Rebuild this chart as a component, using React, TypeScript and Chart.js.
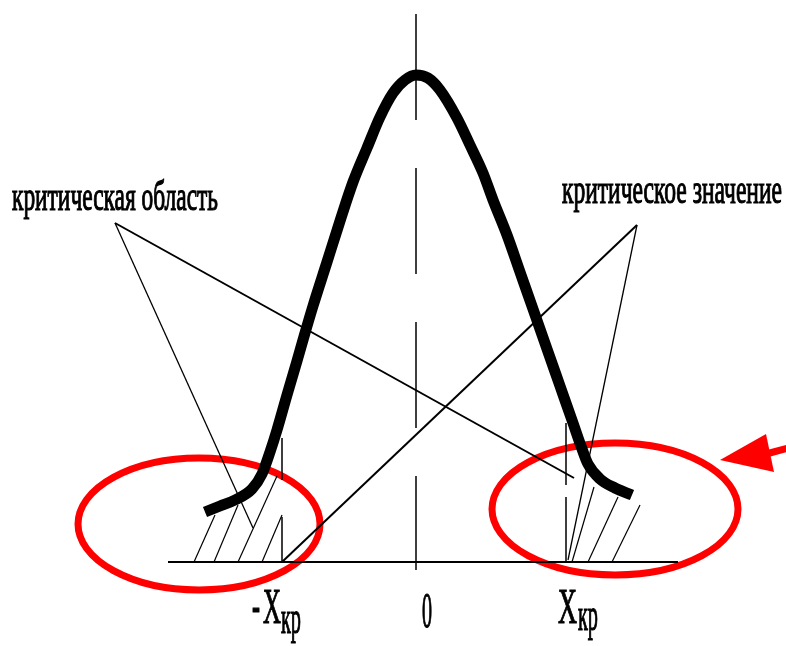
import React, { useEffect, useRef } from "react";
import { Chart, registerables } from "chart.js";

Chart.register(...registerables);

// Coordinate frame: x measured from the centre "0", y measured up from the axis.
const xRange = [-416, 370];
const yRange = [-84, 562];

// Density curve
const curveX = [-211, -196, -181, -164, -154, -146, -139, -129, -119, -111, -103, -89, -76, -63, -49, -36, -23, -11, 0,
  12, 24, 41, 54, 67, 77, 91, 104, 117, 131, 144, 157, 165, 172, 184, 199, 216];
const curveY = [50, 56, 62, 73, 88, 110, 132, 167, 201, 229, 256, 300, 341, 380, 414, 445, 469, 482, 487,
  484, 472, 444, 417, 389, 362, 327, 290, 253, 213, 176, 139, 116, 98, 83, 74, 67];

// Critical values
const xkrLeft = -134;
const xkrRight = 150;

// Base axis [x1, x2]
const axisLine = [-248, 262];
// Centre line [yTop, yBottom]
const centreLine = [548, -8];
// Dashed critical-value lines: [yTop, yBottom] pieces
const leftKrPieces = [[124, 82], [45, 0]];
const rightKrPieces = [[139, 77], [65, 0]];

// Hatching [x1, y1, x2, y2]
const hatchLeft = [
  [-222, 0, -201, 47],
  [-202, 0, -178, 57],
  [-178, 0, -139, 86],
  [-154, 0, -134, 47],
];
const hatchRight = [
  [156, 0, 178, 75],
  [172, 0, 202, 65],
  [196, 0, 224, 57],
];

// Leader lines [x1, y1, x2, y2, width]
const leaders = [
  [-301, 339, 158, 84, 2],
  [-301, 339, -163, 34, 1.3],
  [221, 337, -134, 0, 2],
  [221, 337, 152, 2, 1.3],
];

// Red ellipses [cx, cy, rx, ry]
const ellipses = [
  [-217, 38, 121, 66],
  [199, 53, 123, 66],
];
// Red arrow: tip, head corners, shaft
const arrowTip = [304, 102];
const arrowHead = [[350, 128], [358, 90]];
const arrowShaft = [[350, 108], [372, 114]];

// Texts
const labelTexts = ["критическая область", "критическое значение", "-", "X", "кр", "0", "X", "кр"];
const labelX = [-404, 146, -164, -153, -135, 6, 142, 162];
const labelY = [352, 359, -60, -61, -71, -65, -61, -68];
const labelSize = [42, 40, 50, 50, 46, 50, 50, 46];
const labelWidth = [206, 220, 8, 18, 20, 10, 19, 20];

const seg = (pts: number[][], width: number, dash: number[] = []) => ({
  data: pts.map(([x, y]) => ({ x, y })),
  borderColor: "#000",
  borderWidth: width,
  borderDash: dash,
  pointRadius: 0,
  showLine: true,
  fill: false,
  tension: 0,
});

const drawPlugin = {
  id: "decor",
  beforeDatasetsDraw(chart: any) {
    const { ctx, scales } = chart;
    const sx = scales.x, sy = scales.y;
    ctx.save();
    ctx.strokeStyle = "#ff0000";
    ctx.fillStyle = "#ff0000";
    ctx.lineWidth = 7;
    ellipses.forEach(([cx, cy, rx, ry]) => {
      const px = sx.getPixelForValue(cx);
      const py = sy.getPixelForValue(cy);
      const prx = Math.abs(sx.getPixelForValue(cx + rx) - px);
      const pry = Math.abs(sy.getPixelForValue(cy + ry) - py);
      ctx.beginPath();
      ctx.ellipse(px, py, prx, pry, 0, 0, Math.PI * 2);
      ctx.stroke();
    });
    ctx.beginPath();
    ctx.moveTo(sx.getPixelForValue(arrowShaft[0][0]), sy.getPixelForValue(arrowShaft[0][1]));
    ctx.lineTo(sx.getPixelForValue(arrowShaft[1][0]), sy.getPixelForValue(arrowShaft[1][1]));
    ctx.stroke();
    ctx.beginPath();
    ctx.moveTo(sx.getPixelForValue(arrowTip[0]), sy.getPixelForValue(arrowTip[1]));
    ctx.lineTo(sx.getPixelForValue(arrowHead[0][0]), sy.getPixelForValue(arrowHead[0][1]));
    ctx.lineTo(sx.getPixelForValue(arrowHead[1][0]), sy.getPixelForValue(arrowHead[1][1]));
    ctx.closePath();
    ctx.fill();
    ctx.restore();
  },
  afterDatasetsDraw(chart: any) {
    const { ctx, scales } = chart;
    const sx = scales.x, sy = scales.y;
    labelTexts.forEach((t, i) => {
      ctx.save();
      ctx.font = `${labelSize[i]}px "Liberation Serif", "Times New Roman", serif`;
      ctx.textBaseline = "alphabetic";
      ctx.textAlign = "left";
      ctx.fillStyle = "#000";
      ctx.strokeStyle = "#000";
      ctx.lineWidth = 1.2;
      const w = ctx.measureText(t).width || 1;
      ctx.translate(sx.getPixelForValue(labelX[i]), sy.getPixelForValue(labelY[i]));
      ctx.scale(labelWidth[i] / w, 1);
      ctx.fillText(t, 0, 0);
      ctx.strokeText(t, 0, 0);
      ctx.restore();
    });
  },
};

export default function App() {
  const ref = useRef<HTMLCanvasElement>(null);
  useEffect(() => {
    if (!ref.current) return;
    const datasets: any[] = [];
    datasets.push(seg([[axisLine[0], 0], [axisLine[1], 0]], 2.2));
    datasets.push(seg([[0, centreLine[0]], [0, centreLine[1]]], 1.5, [106, 48]));
    leftKrPieces.forEach(([a, b]) => datasets.push(seg([[xkrLeft, a], [xkrLeft, b]], 1.5)));
    rightKrPieces.forEach(([a, b]) => datasets.push(seg([[xkrRight, a], [xkrRight, b]], 1.5)));
    [...hatchLeft, ...hatchRight].forEach(([a, b, c, d]) => datasets.push(seg([[a, b], [c, d]], 1.2)));
    leaders.forEach(([a, b, c, d, w]) => datasets.push(seg([[a, b], [c, d]], w)));
    datasets.push({
      ...seg(curveX.map((x, i) => [x, curveY[i]]), 11),
      cubicInterpolationMode: "monotone",
      borderCapStyle: "butt",
      borderJoinStyle: "round",
    });
    const chart = new Chart(ref.current, {
      type: "scatter",
      data: { datasets },
      options: {
        animation: false,
        responsive: false,
        devicePixelRatio: 1,
        layout: { padding: 0 },
        plugins: { legend: { display: false }, tooltip: { enabled: false }, title: { display: false } },
        datasets: { scatter: { clip: false } } as any,
        scales: {
          x: { type: "linear", min: xRange[0], max: xRange[1], display: false },
          y: { type: "linear", min: yRange[0], max: yRange[1], display: false },
        },
      },
      plugins: [drawPlugin],
    });
    return () => chart.destroy();
  }, []);
  return (
    <div style={{ position: "fixed", left: 0, top: 0, width: 786, height: 646, background: "#fff" }}>
      <canvas ref={ref} width={786} height={646} />
    </div>
  );
}
